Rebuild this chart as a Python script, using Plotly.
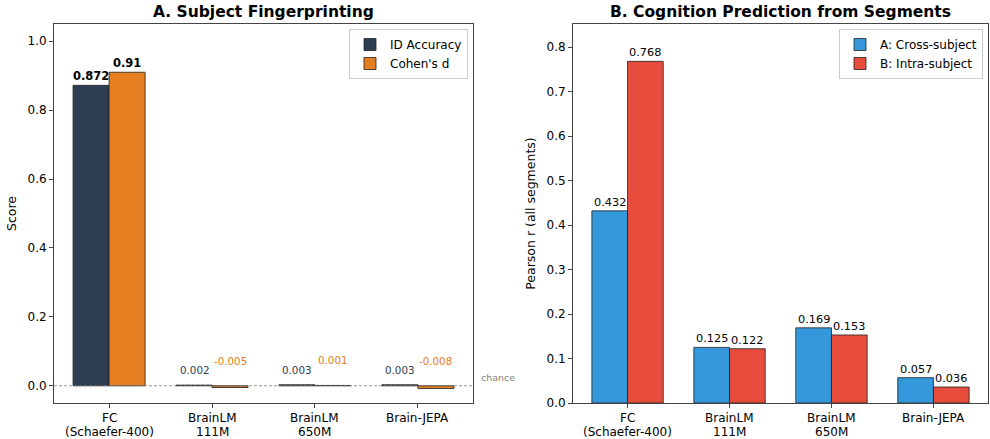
import plotly.graph_objects as go

categories = ["FC\n(Schaefer-400)", "BrainLM\n111M", "BrainLM\n650M", "Brain-JEPA"]
id_accuracy = [0.872, 0.002, 0.003, 0.003]
cohens_d = [0.91, -0.005, 0.001, -0.008]
cross_subject = [0.432, 0.125, 0.169, 0.057]
intra_subject = [0.768, 0.122, 0.153, 0.036]
left_ticks = [0.0, 0.2, 0.4, 0.6, 0.8, 1.0]
right_ticks = [0.0, 0.1, 0.2, 0.3, 0.4, 0.5, 0.6, 0.7, 0.8]

NAVY = "#2c3e50"
ORANGE = "#e67e22"
BLUE = "#3498db"
RED = "#e74c3c"
FONT = "DejaVu Sans"

W, H = 990, 439
def px(x):
    return x / W
def py(y):
    return (H - y) / H

xs = list(range(len(categories)))
fig = go.Figure()
edge = dict(color="#222222", width=0.8)

fig.add_trace(go.Bar(x=xs, y=id_accuracy, name="ID Accuracy", marker=dict(color=NAVY, line=edge),
                     xaxis="x", yaxis="y", legend="legend", offsetgroup="a"))
fig.add_trace(go.Bar(x=xs, y=cohens_d, name="Cohen's d", marker=dict(color=ORANGE, line=edge),
                     xaxis="x", yaxis="y", legend="legend", offsetgroup="b"))
fig.add_trace(go.Bar(x=xs, y=cross_subject, name="A: Cross-subject", marker=dict(color=BLUE, line=edge),
                     xaxis="x2", yaxis="y2", legend="legend2", offsetgroup="c"))
fig.add_trace(go.Bar(x=xs, y=intra_subject, name="B: Intra-subject", marker=dict(color=RED, line=edge),
                     xaxis="x2", yaxis="y2", legend="legend2", offsetgroup="d"))

bw = 0.35
ann = []
for i, (a, d) in enumerate(zip(id_accuracy, cohens_d)):
    if a > 0.5:
        ann.append(dict(x=i - bw / 2, y=a, text=f"<b>{a:g}</b>", xref="x", yref="y", showarrow=False,
                        yanchor="bottom", font=dict(size=11.5, color="black", family=FONT)))
        ann.append(dict(x=i + bw / 2, y=d, text=f"<b>{d:g}</b>", xref="x", yref="y", showarrow=False,
                        yanchor="bottom", font=dict(size=11.5, color="black", family=FONT)))
    else:
        ann.append(dict(x=i - bw / 2, y=max(a, 0) + 0.02, text=f"{a:g}", xref="x", yref="y", showarrow=False,
                        yanchor="bottom", font=dict(size=10.3, color=NAVY, family=FONT)))
        ann.append(dict(x=i + bw / 2, y=max(d, 0) + 0.05, text=f"{d:g}", xref="x", yref="y", showarrow=False,
                        yanchor="bottom", font=dict(size=10.3, color=ORANGE, family=FONT)))
for i, (c, r) in enumerate(zip(cross_subject, intra_subject)):
    ann.append(dict(x=i - bw / 2, y=c, text=f"{c:g}", xref="x2", yref="y2", showarrow=False,
                    yanchor="bottom", font=dict(size=11.3, color="black", family=FONT)))
    ann.append(dict(x=i + bw / 2, y=r, text=f"{r:g}", xref="x2", yref="y2", showarrow=False,
                    yanchor="bottom", font=dict(size=11.3, color="black", family=FONT)))

# category tick labels (multi-line, tight line spacing)
for xref in ("x", "x2"):
    for i, cat in enumerate(categories):
        for j, line in enumerate(cat.split("\n")):
            ann.append(dict(x=i, y=py(418 + 14 * j), xref=xref, yref="paper", text=line, showarrow=False,
                            xanchor="center", yanchor="middle",
                            font=dict(size=12, color="black", family=FONT)))

ann.append(dict(x=px(479), y=0.0, xref="paper", yref="y", text="chance", showarrow=False,
                xanchor="left", yanchor="bottom", yshift=1, font=dict(size=9.5, color="gray", family=FONT)))
ann.append(dict(x=px(263.5), y=py(12), xref="paper", yref="paper", text="<b>A. Subject Fingerprinting</b>",
                showarrow=False, xanchor="center", yanchor="middle", font=dict(size=15.5, color="black", family=FONT)))
ann.append(dict(x=px(780.5), y=py(12), xref="paper", yref="paper", text="<b>B. Cognition Prediction from Segments</b>",
                showarrow=False, xanchor="center", yanchor="middle", font=dict(size=15.5, color="black", family=FONT)))

fig.add_shape(type="line", xref="x domain", yref="y", x0=0, x1=1, y0=0, y1=0,
              line=dict(color="gray", width=0.8, dash="3px,2px"))

axis_common = dict(showline=True, mirror=True, linecolor="#444444", linewidth=1, ticks="outside",
                   ticklen=4, tickcolor="#444444", showgrid=False, zeroline=False, automargin=False,
                   tickfont=dict(size=12, color="black", family=FONT))
xr = [-0.535, 3.535]
fig.update_layout(
    width=W, height=H, margin=dict(l=0, r=0, t=0, b=0, autoexpand=False),
    paper_bgcolor="white", plot_bgcolor="white",
    font=dict(family=FONT, color="black"),
    barmode="group", bargap=0.3, bargroupgap=0,
    xaxis=dict(domain=[px(54), px(473)], range=xr, tickvals=xs, showticklabels=False, anchor="y", **axis_common),
    yaxis=dict(domain=[py(403), py(24)], range=[-0.05, 1.05], tickvals=left_ticks,
               ticktext=[f"{t:.1f}" for t in left_ticks], anchor="x",
               title=dict(text="Score", font=dict(size=12.5, family=FONT), standoff=8), **axis_common),
    xaxis2=dict(domain=[px(573), px(988)], range=xr, tickvals=xs, showticklabels=False, anchor="y2", **axis_common),
    yaxis2=dict(domain=[py(403), py(24)], range=[0, 0.852], tickvals=right_ticks,
                ticktext=[f"{t:.1f}" for t in right_ticks], anchor="x2",
                title=dict(text="Pearson r (all segments)", font=dict(size=12.5, family=FONT), standoff=8), **axis_common),
    legend=dict(x=px(468), y=py(29), xanchor="right", yanchor="top", bgcolor="rgba(255,255,255,0.8)",
                bordercolor="#cccccc", borderwidth=1, font=dict(size=12, family=FONT), itemwidth=30,
                tracegroupgap=0),
    legend2=dict(x=px(983), y=py(29), xanchor="right", yanchor="top", bgcolor="rgba(255,255,255,0.8)",
                 bordercolor="#cccccc", borderwidth=1, font=dict(size=12, family=FONT), itemwidth=30,
                 tracegroupgap=0),
    annotations=ann,
    showlegend=True,
)
fig.write_html("out.html")
